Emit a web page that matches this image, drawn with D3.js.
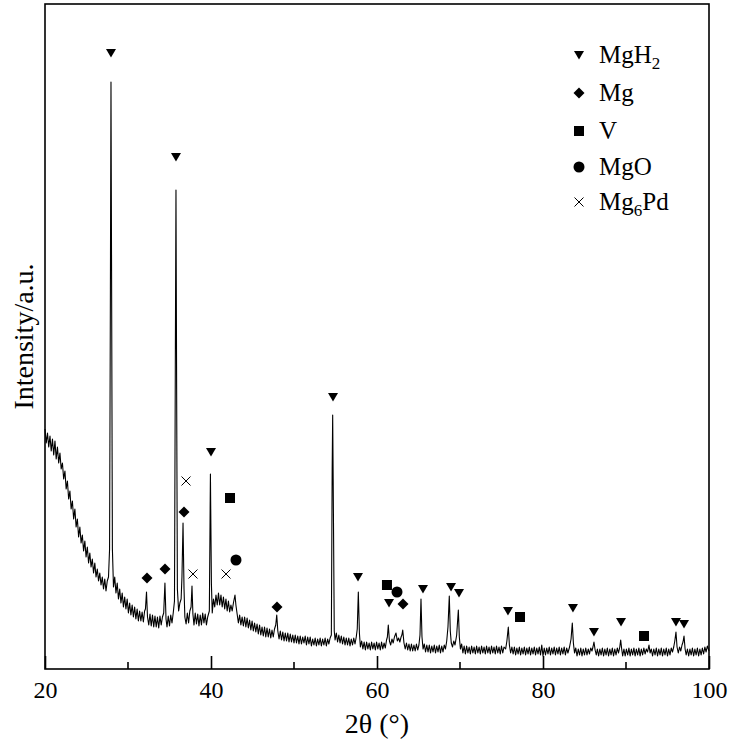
<!DOCTYPE html>
<html>
<head>
<meta charset="utf-8">
<script src="https://cdn.jsdelivr.net/npm/d3@7"></script>
<style>
  body { margin: 0; background: #fff; }
  svg text { font-family: "Liberation Serif", "Times New Roman", serif; fill: #000; }
</style>
</head>
<body>
<svg id="chart" width="729" height="744"></svg>
<script>
// XRD pattern, [2theta, intensity a.u.]
const pattern = [
  [20.0,240],[20.15,226],[20.3,236],[20.45,222],[20.6,233],[20.75,218],[20.9,230],[21.05,214],[21.2,228],[21.35,210],
  [21.5,222],[21.65,206],[21.8,216],[21.95,200],[22.1,206],[22.25,190],[22.4,198],[22.55,180],[22.7,188],[22.85,170],
  [23.0,178],[23.15,160],[23.3,168],[23.45,150],[23.6,160],[23.75,142],[23.9,150],[24.05,132],[24.2,142],[24.35,126],
  [24.5,134],[24.65,118],[24.8,128],[24.95,112],[25.1,122],[25.25,106],[25.4,116],[25.55,102],[25.7,110],[25.85,96],
  [26.0,106],[26.15,92],[26.3,100],[26.45,88],[26.6,96],[26.75,84],[26.9,92],[27.05,80],[27.2,90],[27.35,78],
  [27.5,88],[27.65,92],[27.78,120],[27.88,380],[27.95,587],[28.02,400],[28.12,120],[28.25,82],[28.4,92],[28.55,76],
  [28.7,86],[28.85,70],[29.0,80],[29.15,66],[29.3,76],[29.45,62],[29.6,72],[29.75,60],[29.9,70],[30.05,56],
  [30.2,66],[30.35,54],[30.5,64],[30.65,52],[30.8,62],[30.95,50],[31.1,60],[31.25,48],[31.4,58],[31.55,48],
  [31.7,57],[31.85,47],[32.0,58],[32.1,60],[32.23,77],[32.35,52],[32.5,44],[32.65,55],[32.8,43],[32.95,54],
  [33.1,42],[33.25,53],[33.4,42],[33.55,52],[33.7,41],[33.85,53],[34.0,44],[34.15,52],[34.3,56],[34.45,86],
  [34.58,50],[34.7,42],[34.85,53],[35.0,43],[35.15,54],[35.3,46],[35.45,56],[35.6,68],[35.7,300],[35.78,479],
  [35.86,280],[35.95,80],[36.1,58],[36.25,66],[36.4,70],[36.5,92],[36.63,146],[36.75,80],[36.85,52],[37.0,45],
  [37.15,56],[37.3,46],[37.45,58],[37.6,62],[37.71,83],[37.82,55],[37.95,44],[38.1,56],[38.25,45],[38.4,55],
  [38.55,43],[38.7,54],[38.85,44],[39.0,56],[39.15,46],[39.3,55],[39.45,44],[39.6,52],[39.8,58],[39.93,195],
  [40.05,85],[40.15,56],[40.3,70],[40.45,62],[40.6,74],[40.75,64],[40.9,76],[41.05,64],[41.2,74],[41.35,62],
  [41.5,72],[41.65,60],[41.8,70],[41.95,58],[42.1,68],[42.25,57],[42.4,64],[42.55,58],[42.7,66],[42.89,74],
  [43.0,64],[43.15,55],[43.3,46],[43.45,54],[43.6,44],[43.75,52],[43.9,43],[44.05,52],[44.2,42],[44.35,51],
  [44.5,41],[44.65,49],[44.8,39],[44.95,48],[45.1,38],[45.25,46],[45.4,37],[45.55,45],[45.7,35],[45.85,44],
  [46.0,34],[46.15,42],[46.3,33],[46.45,42],[46.6,32],[46.75,41],[46.9,32],[47.05,40],[47.2,31],[47.35,39],
  [47.5,32],[47.65,40],[47.8,44],[47.92,54],[48.05,38],[48.2,30],[48.35,38],[48.5,29],[48.65,37],[48.8,28],
  [48.95,36],[49.1,28],[49.25,36],[49.4,27],[49.55,35],[49.7,27],[49.85,34],[50.0,26],[50.15,34],[50.3,26],
  [50.45,33],[50.6,25],[50.75,33],[50.9,25],[51.05,32],[51.2,26],[51.35,33],[51.5,24],[51.65,32],[51.8,25],
  [51.95,32],[52.1,23],[52.25,30],[52.4,24],[52.55,31],[52.7,23],[52.85,30],[53.0,24],[53.15,31],[53.3,23],
  [53.45,30],[53.6,24],[53.75,31],[53.9,23],[54.05,30],[54.2,25],[54.35,31],[54.5,34],[54.6,200],[54.66,254],
  [54.72,190],[54.85,38],[54.95,29],[55.1,36],[55.25,27],[55.4,34],[55.55,26],[55.7,33],[55.85,25],[56.0,32],
  [56.15,24],[56.3,31],[56.45,24],[56.6,31],[56.75,23],[56.9,30],[57.05,24],[57.2,31],[57.35,25],[57.5,32],
  [57.62,40],[57.75,77],[57.88,36],[58.0,22],[58.15,28],[58.3,20],[58.45,27],[58.6,19],[58.75,27],[58.9,20],
  [59.05,26],[59.2,19],[59.35,27],[59.5,20],[59.65,26],[59.8,19],[59.95,27],[60.1,20],[60.25,26],[60.4,19],
  [60.55,27],[60.7,20],[60.85,26],[61.0,21],[61.15,29],[61.25,32],[61.36,44],[61.5,28],[61.65,24],[61.8,30],
  [61.95,26],[62.1,32],[62.29,36],[62.45,28],[62.6,31],[62.75,27],[62.9,32],[63.0,34],[63.1,39],[63.25,26],
  [63.4,20],[63.55,26],[63.7,19],[63.85,25],[64.0,18],[64.15,25],[64.3,18],[64.45,24],[64.6,18],[64.75,25],
  [64.9,19],[65.05,24],[65.18,34],[65.3,70],[65.42,32],[65.55,20],[65.7,25],[65.85,17],[66.0,24],[66.15,17],
  [66.3,24],[66.45,16],[66.6,23],[66.75,17],[66.9,24],[67.05,16],[67.2,23],[67.35,17],[67.5,24],[67.65,16],
  [67.8,23],[67.95,17],[68.1,24],[68.25,20],[68.4,28],[68.55,42],[68.71,73],[68.83,38],[68.95,26],[69.1,22],
  [69.25,28],[69.4,24],[69.6,34],[69.8,59],[69.92,32],[70.05,20],[70.2,25],[70.35,16],[70.5,23],[70.65,15],
  [70.8,23],[70.95,16],[71.1,22],[71.25,15],[71.4,23],[71.55,16],[71.7,22],[71.85,15],[72.0,23],[72.15,16],
  [72.3,22],[72.45,15],[72.6,23],[72.75,16],[72.9,22],[73.05,15],[73.2,23],[73.35,16],[73.5,22],[73.65,15],
  [73.8,23],[73.95,16],[74.1,22],[74.25,15],[74.4,23],[74.55,16],[74.7,22],[74.85,15],[75.0,23],[75.15,16],
  [75.3,22],[75.5,20],[75.65,28],[75.82,42],[75.95,24],[76.1,16],[76.25,22],[76.4,15],[76.55,22],[76.7,14],
  [76.85,21],[77.0,15],[77.15,22],[77.3,14],[77.45,21],[77.6,15],[77.75,22],[77.9,14],[78.05,21],[78.2,15],
  [78.35,22],[78.5,14],[78.65,21],[78.8,15],[78.95,22],[79.1,14],[79.25,21],[79.4,15],[79.55,22],[79.7,14],
  [79.85,24],[80.0,13],[80.15,21],[80.3,14],[80.45,21],[80.6,15],[80.75,22],[80.9,14],[81.05,21],[81.2,15],
  [81.35,22],[81.5,14],[81.65,21],[81.8,15],[81.95,22],[82.1,14],[82.25,21],[82.4,15],[82.55,22],[82.7,14],
  [82.85,21],[83.0,16],[83.2,22],[83.38,30],[83.53,46],[83.66,26],[83.8,16],[83.95,21],[84.1,13],[84.25,20],
  [84.4,14],[84.55,21],[84.7,13],[84.85,20],[85.0,14],[85.15,21],[85.3,14],[85.45,20],[85.6,15],[85.75,21],
  [85.9,18],[86.02,22],[86.14,27],[86.28,19],[86.42,14],[86.55,20],[86.7,13],[86.85,20],[87.0,14],[87.15,21],
  [87.3,13],[87.45,20],[87.6,14],[87.75,21],[87.9,13],[88.05,20],[88.2,14],[88.35,21],[88.5,13],[88.65,20],
  [88.8,14],[88.95,21],[89.1,16],[89.25,22],[89.36,29],[89.48,20],[89.6,13],[89.75,20],[89.9,13],[90.05,20],
  [90.2,14],[90.35,21],[90.5,13],[90.65,20],[90.8,14],[90.95,21],[91.1,13],[91.25,20],[91.4,14],[91.55,21],
  [91.7,13],[91.85,20],[92.0,14],[92.15,21],[92.3,15],[92.45,20],[92.6,17],[92.77,24],[92.9,16],[93.05,20],
  [93.2,13],[93.35,20],[93.5,14],[93.65,21],[93.8,13],[93.95,20],[94.1,14],[94.25,21],[94.4,13],[94.55,20],
  [94.7,14],[94.85,21],[95.0,13],[95.15,20],[95.3,14],[95.45,21],[95.6,17],[95.75,22],[95.88,28],[96.02,37],
  [96.15,22],[96.3,16],[96.45,22],[96.6,18],[96.75,24],[96.87,27],[96.99,33],[97.12,20],[97.25,14],[97.4,20],
  [97.55,13],[97.7,20],[97.85,14],[98.0,21],[98.15,13],[98.3,20],[98.45,14],[98.6,21],[98.75,13],[98.9,20],
  [99.05,14],[99.2,21],[99.35,15],[99.5,22],[99.65,17],[99.8,23],[100.0,18]
];

// phase markers: [2theta, height where the marker sits]
const mgh2Marks = [[27.95,616],[35.78,512],[40.0,217],[54.70,272],[57.71,92],[61.45,66],[65.54,80],[68.92,82],
  [69.88,76],[75.78,58],[83.61,61],[86.14,37],[89.40,47],[96.02,47],[96.99,45]];
const mgMarks = [[32.29,91],[34.46,100],[36.75,157],[47.95,62],[63.13,65]];
const vMarks = [[42.29,171],[61.2,84],[77.23,52],[92.17,33]];
const mgoMarks = [[43.01,109],[62.41,77]];
const mg6pdMarks = [[36.99,188],[37.83,95],[41.81,95]];

const legendItems = [
  { key: "tri", name: "MgH", sub: "2" },
  { key: "dia", name: "Mg" },
  { key: "sq", name: "V" },
  { key: "circ", name: "MgO" },
  { key: "cross", name: "Mg", sub: "6", after: "Pd" }
];

const xTicks = [20, 40, 60, 80, 100];
const xMinorTicks = [30, 50, 70, 90];

const svg = d3.select("#chart");
const margin = { top: 4, right: 20, bottom: 75, left: 45 };
const W = 729, H = 744;
const x = d3.scaleLinear().domain([20, 100]).range([margin.left, W - margin.right]);
const y = d3.scaleLinear().domain([0, 665]).range([H - margin.bottom, margin.top]);

// marker drawing
function drawMarker(g, key) {
  if (key === "tri") {
    g.append("path").attr("d", "M-5,-4L5,-4L0,4.5Z").attr("fill", "#000");
  } else if (key === "dia") {
    g.append("path").attr("d", "M0,-5.5L5.5,0L0,5.5L-5.5,0Z").attr("fill", "#000");
  } else if (key === "sq") {
    g.append("rect").attr("x", -5).attr("y", -5).attr("width", 10).attr("height", 10).attr("fill", "#000");
  } else if (key === "circ") {
    g.append("circle").attr("r", 5.5).attr("fill", "#000");
  } else {
    g.append("path").attr("d", "M-4.5,-4.5L4.5,4.5M-4.5,4.5L4.5,-4.5")
      .attr("stroke", "#000").attr("stroke-width", 1).attr("fill", "none");
  }
}

// pattern line
const line = d3.line().x(d => x(d[0])).y(d => y(d[1]));
svg.append("path")
  .datum(pattern)
  .attr("d", line)
  .attr("fill", "none")
  .attr("stroke", "#000")
  .attr("stroke-width", 1.1)
  .attr("stroke-linejoin", "round");

// markers on the pattern
const markSets = [["tri", mgh2Marks], ["dia", mgMarks], ["sq", vMarks], ["circ", mgoMarks], ["cross", mg6pdMarks]];
markSets.forEach(([key, pts]) => {
  pts.forEach(p => {
    const g = svg.append("g").attr("transform", `translate(${x(p[0])},${y(p[1])})`);
    drawMarker(g, key);
  });
});

// frame
svg.append("rect")
  .attr("x", x(20)).attr("y", y(665))
  .attr("width", x(100) - x(20)).attr("height", y(0) - y(665))
  .attr("fill", "none").attr("stroke", "#000").attr("stroke-width", 1.6);

// x axis with inward ticks
const xAxis = svg.append("g")
  .attr("transform", `translate(0,${y(0)})`)
  .call(d3.axisBottom(x).tickValues(xTicks).tickSizeInner(-13).tickSizeOuter(0).tickPadding(12).tickFormat(d3.format("d")));
xAxis.select(".domain").remove();
xAxis.selectAll(".tick line").attr("stroke-width", 1.6);
xAxis.selectAll("text").style("font-size", "24px").style("font-family", '"Liberation Serif", "Times New Roman", serif');

svg.append("g").selectAll("line")
  .data(xMinorTicks).join("line")
  .attr("x1", d => x(d)).attr("x2", d => x(d))
  .attr("y1", y(0)).attr("y2", y(0) - 7)
  .attr("stroke", "#000").attr("stroke-width", 1.6);

// axis titles
svg.append("text")
  .attr("x", (x(20) + x(100)) / 2).attr("y", 733)
  .attr("text-anchor", "middle")
  .style("font-size", "28px")
  .text("2θ (°)");

svg.append("text")
  .attr("transform", `translate(33,${(y(0) + y(665)) / 2}) rotate(-90)`)
  .attr("text-anchor", "middle")
  .style("font-size", "28px")
  .text("Intensity/a.u.");

// legend
const legendY = [55, 93, 131, 167, 202];
const legend = svg.append("g");
legendItems.forEach((item, i) => {
  const g = legend.append("g").attr("transform", `translate(579,${legendY[i]})`);
  drawMarker(g, item.key);
  const t = legend.append("text")
    .attr("x", 599).attr("y", legendY[i] + 8)
    .style("font-size", "25px");
  t.append("tspan").text(item.name);
  if (item.sub) {
    t.append("tspan").attr("dy", 6).style("font-size", "17px").text(item.sub);
  }
  if (item.after) {
    t.append("tspan").attr("dy", -6).text(item.after);
  }
});
</script>
</body>
</html>
